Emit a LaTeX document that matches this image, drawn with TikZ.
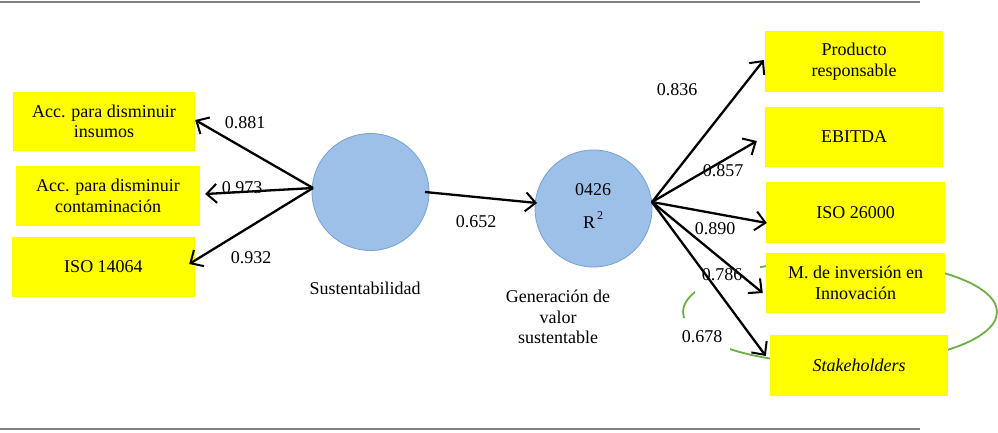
\documentclass[tikz,border=0pt]{standalone}
\usepackage{fontspec}
\setmainfont{Liberation Serif}
\usetikzlibrary{arrows.meta}
\definecolor{boxyellow}{RGB}{255,255,0}
\definecolor{circfill}{RGB}{157,192,232}
\definecolor{circdraw}{RGB}{120,160,210}
\definecolor{ringgreen}{RGB}{112,173,71}
\definecolor{rulegray}{RGB}{128,128,128}
\tikzset{
  ybox/.style={fill=boxyellow, draw=none, align=center, inner sep=0pt,
    font=\fontsize{18}{20.5}\selectfont},
  lv/.style={circle, fill=circfill, draw=circdraw, line width=0.8pt, minimum size=117pt, inner sep=0pt},
  coef/.style={font=\fontsize{18}{20}\selectfont, inner sep=1pt},
  txt/.style={font=\fontsize{18}{20.5}\selectfont, align=center, inner sep=0pt},
  arr/.style={line width=2.3pt, -{Straight Barb[length=10pt,width=19pt,line width=2pt]}},
}
\begin{document}
\begin{tikzpicture}[x=1pt,y=-1pt]
\useasboundingbox (0,0) rectangle (998,432);
\fill[white] (0,0) rectangle (998,432);
% rules
\draw[rulegray, line width=2pt] (0,2) -- (920,2);
\draw[rulegray, line width=2pt] (0,429) -- (920,429);
% green ring, partly hidden
\begin{scope}
  \clip (0,0) rectangle (695,318) (730,300) rectangle (998,432) (760,0) rectangle (998,300);
  \draw[ringgreen, line width=1.8pt] (840,312) ellipse [x radius=157, y radius=52];
\end{scope}
% boxes
\node[ybox, minimum width=182pt, minimum height=59pt] (b1) at (104,121.5) {Acc. para disminuir\\insumos};
\node[ybox, minimum width=184pt, minimum height=60pt] (b2) at (108,196) {Acc. para disminuir\\contaminación};
\node[ybox, minimum width=183pt, minimum height=60pt] (b3) at (103.5,267) {ISO 14064};
\node[ybox, minimum width=178pt, minimum height=61pt] (r1) at (854,61.5) {Producto\\responsable};
\node[ybox, minimum width=178pt, minimum height=60pt] (r2) at (854,137) {EBITDA};
\node[ybox, minimum width=179pt, minimum height=61pt] (r3) at (855.5,212.5) {ISO 26000};
\node[ybox, minimum width=179pt, minimum height=60pt] (r4) at (855.5,283) {M. de inversión en\\Innovación};
\node[ybox, minimum width=178pt, minimum height=61pt] (r5) at (859,365.5) {\itshape Stakeholders};
% latent variables
\node[lv] (s) at (370.5,192) {};
\node[lv] (g) at (593.5,208.5) {};
\node[txt] (gval) at (593,190) {0426};
\node[txt] (gr) at (593,220) {R\raisebox{9pt}{\fontsize{12}{12}\selectfont\,2}};
\node[txt] (slab) at (365,288) {Sustentabilidad};
\node[txt] (glab) at (558,317) {Generación de\\valor\\sustentable};
% coefficients
\node[coef] (c881) at (245,123) {0.881};
\node[coef] (c973) at (242,188) {0.973};
\node[coef] (c932) at (251,258) {0.932};
\node[coef] (c652) at (476,222) {0.652};
\node[coef] (c836) at (677,90) {0.836};
\node[coef] (c857) at (723,171) {0.857};
\node[coef] (c890) at (715,229) {0.890};
\node[coef] (c786) at (722,275) {0.786};
\node[coef] (c678) at (702,337) {0.678};
% connector endpoints
\coordinate (sL) at (313,188);
\coordinate (sR) at (425,192);
\coordinate (gL) at (537,203);
\coordinate (gR) at (652,202);
\coordinate (e1) at ([yshift=1.5pt]b1.east);
\coordinate (e2) at ([xshift=5pt,yshift=2pt]b2.east);
\coordinate (e3) at ([xshift=-6pt,yshift=3pt]b3.east);
\coordinate (f1) at ([xshift=-1pt,yshift=1.5pt]r1.west);
\coordinate (f2) at ([xshift=-8pt,yshift=-4pt]r2.west);
\coordinate (f3) at ([xshift=1pt,yshift=-10.5pt]r3.west);
\coordinate (f4) at ([xshift=-3pt,yshift=-10pt]r4.west);
\coordinate (f5) at ([xshift=-4pt,yshift=9.5pt]r5.west);
% arrows
\draw[arr] (sL) -- (e1);
\draw[arr] (sL) -- (e2);
\draw[arr] (sL) -- (e3);
\draw[arr] (sR) -- (gL);
\draw[arr] (gR) -- (f1);
\draw[arr] (gR) -- (f2);
\draw[arr] (gR) -- (f3);
\draw[arr] (gR) -- (f4);
\draw[arr] (gR) -- (f5);
\end{tikzpicture}
\end{document}
